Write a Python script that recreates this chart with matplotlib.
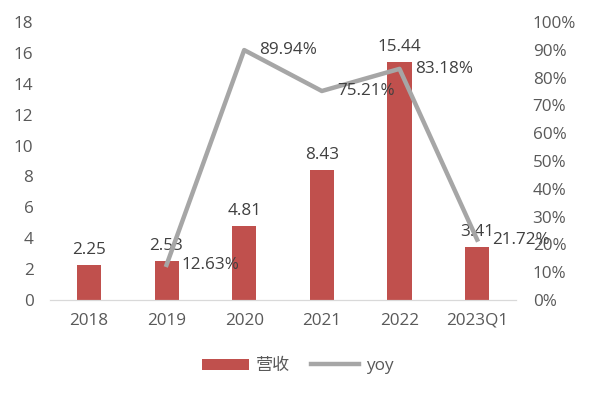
import matplotlib
matplotlib.use('Agg')
import matplotlib.pyplot as plt
import numpy as np
from matplotlib.ticker import PercentFormatter

plt.rcParams['font.family'] = ['Open Sans', 'Noto Sans CJK SC', 'DejaVu Sans']

years = ['2018', '2019', '2020', '2021', '2022', '2023Q1']
revenue = [2.25, 2.53, 4.81, 8.43, 15.44, 3.41]
yoy = [None, 12.63, 89.94, 75.21, 83.18, 21.72]

bar_color = '#C0504D'
line_color = '#A6A6A6'
tick_color = '#595959'
label_color = '#404040'
fs = 12.3

fig = plt.figure(figsize=(5.89, 3.95), dpi=100)
ax = fig.add_axes([0.085, 0.2405, 0.791, 0.7035])
x = np.arange(len(years))

bars = ax.bar(x, revenue, width=0.31, color=bar_color, label='营收', zorder=2)
ax.set_ylim(0, 18)
ax.set_yticks(np.arange(0, 19, 2))
ax.set_xlim(-0.5, len(years) - 0.5)
ax.set_xticks(x)
ax.set_xticklabels(years)
for b, v in zip(bars, revenue):
    ax.annotate(f'{v:.2f}', (b.get_x() + b.get_width() / 2, v), xytext=(0, 5),
                textcoords='offset points', ha='center', va='bottom',
                fontsize=fs, color=label_color, zorder=5)

ax2 = ax.twinx()
xi = [i for i, v in enumerate(yoy) if v is not None]
yv = [v for v in yoy if v is not None]
ax2.plot(xi, yv, color=line_color, lw=3.2, label='yoy', zorder=3)
ax2.set_ylim(0, 100)
ax2.set_yticks(np.arange(0, 101, 10))
ax2.yaxis.set_major_formatter(PercentFormatter(decimals=0))
for i, v in zip(xi, yv):
    ax2.annotate(f'{v:.2f}%', (i, v), xytext=(11, 0), textcoords='offset points',
                 ha='left', va='center', fontsize=fs, color=label_color)

for a in (ax, ax2):
    for s in ('top', 'left', 'right'):
        a.spines[s].set_visible(False)
    a.spines['bottom'].set_color('#D9D9D9')
    a.tick_params(length=0, labelsize=fs, labelcolor=tick_color)
ax.tick_params(axis='x', pad=9)
ax.tick_params(axis='y', pad=12)
ax2.tick_params(axis='y', pad=12)

h1, l1 = ax.get_legend_handles_labels()
h2, l2 = ax2.get_legend_handles_labels()
leg = fig.legend(h1 + h2, l1 + l2, loc='center', bbox_to_anchor=(0.505, 0.073),
                 ncol=2, frameon=False, fontsize=fs, handlelength=2.8,
                 handleheight=0.6, columnspacing=1.2, handletextpad=0.4)
for t in leg.get_texts():
    t.set_color(tick_color)

fig.savefig('out.png', dpi=100)
